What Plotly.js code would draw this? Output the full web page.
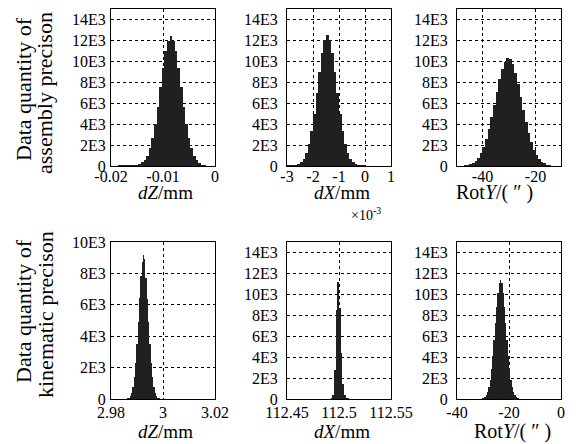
<!DOCTYPE html>
<html><head><meta charset="utf-8">
<script src="https://cdn.plot.ly/plotly-3.0.1.min.js"></script>
<style>html,body{margin:0;padding:0;background:#fff}#chart{width:576px;height:444px}</style>
</head><body><div id="chart"></div>
<script>
// ---------- data ----------
// Panel 1: assembly precision, dZ (mm)
const asmDzBins = [-0.0185,-0.018,-0.0175,-0.017,-0.0165,-0.016,-0.0155,-0.015,-0.0145,-0.014,-0.0135,-0.013,-0.0125,-0.012,-0.0115,-0.011,-0.0105,-0.01,-0.0095,-0.009,-0.0085,-0.008,-0.0075,-0.007,-0.0065,-0.006,-0.0055,-0.005,-0.0045,-0.004,-0.0035,-0.003,-0.0025,-0.002,-0.0015];
const asmDzCounts = [60,70,70,80,80,90,110,140,220,340,560,990,1680,2680,4030,5680,7520,9360,10940,11900,12400,11950,10940,9360,7520,5680,4030,2680,1680,990,540,280,140,60,30];
// Panel 2: assembly precision, dX (x10^-3 mm)
const asmDxBins = [-2.95,-2.85,-2.75,-2.65,-2.55,-2.45,-2.35,-2.25,-2.15,-2.05,-1.95,-1.85,-1.75,-1.65,-1.55,-1.45,-1.35,-1.25,-1.15,-1.05,-0.95,-0.85,-0.75,-0.65,-0.55,-0.45,-0.35,-0.25,-0.15,-0.05,0.05];
const asmDxCounts = [50,60,80,110,200,370,690,1230,2100,3360,5000,6950,8980,10770,12020,12470,12020,10770,8980,6950,5000,3360,2100,1230,690,370,200,110,80,60,20];
// Panel 3: assembly precision, RotY (")
const asmRotBins = [-49.5,-48.5,-47.5,-46.5,-45.5,-44.5,-43.5,-42.5,-41.5,-40.5,-39.5,-38.5,-37.5,-36.5,-35.5,-34.5,-33.5,-32.5,-31.5,-30.5,-29.5,-28.5,-27.5,-26.5,-25.5,-24.5,-23.5,-22.5,-21.5,-20.5,-19.5,-18.5,-17.5,-16.5,-15.5,-14.5,-13.5,-12.5,-11.5,-10.5];
const asmRotCounts = [30,30,40,50,95,170,300,500,800,1230,1830,2600,3550,4660,5870,7110,8290,9270,9960,10280,10200,9720,8900,7830,6620,5380,4200,3150,2270,1570,1040,670,410,240,140,75,40,30,30,20];
// Panel 4: kinematic precision, dZ (mm)
const kinDzBins = [2.985,2.9855,2.986,2.9865,2.987,2.9875,2.988,2.9885,2.989,2.9895,2.99,2.9905,2.991,2.9915,2.992,2.9925,2.993,2.9935,2.994,2.9945,2.995,2.9955,2.996,2.9965,2.997,2.9975,2.998,2.9985,2.999,2.9995];
const kinDzCounts = [20,25,30,35,85,190,400,770,1380,2280,3480,4930,6460,7840,8700,9150,8900,7700,6400,4930,3480,2280,1380,770,400,190,85,35,25,20];
// Panel 5: kinematic precision, dX (mm)
const kinDxBins = [112.4912,112.4928,112.4944,112.496,112.4976,112.4992,112.5008,112.5024,112.504,112.5056,112.5072,112.5088];
const kinDxCounts = [30,60,350,2800,8500,11200,8700,4400,1400,350,100,50];
// Panel 6: kinematic precision, RotY (")
const kinRotBins = [-35.25,-34.75,-34.25,-33.75,-33.25,-32.75,-32.25,-31.75,-31.25,-30.75,-30.25,-29.75,-29.25,-28.75,-28.25,-27.75,-27.25,-26.75,-26.25,-25.75,-25.25,-24.75,-24.25,-23.75,-23.25,-22.75,-22.25,-21.75,-21.25,-20.75,-20.25,-19.75,-19.25,-18.75,-18.25,-17.75,-17.25,-16.75,-16.25,-15.75,-15.25,-14.75,-14.25,-13.75,-13.25,-12.75,-12.25,-11.75,-11.25];
const kinRotCounts = [15,20,20,25,25,30,30,35,40,45,70,120,210,380,670,1150,1850,2840,4100,5600,7240,8830,10170,11070,11390,11070,10170,8830,7240,5600,4100,2840,1850,1150,670,380,210,120,70,45,40,35,30,25,20,20,15,15,10];

// tick values and labels
const countTicks15 = [0,2000,4000,6000,8000,10000,12000,14000];
const countText15 = ['0','2E3','4E3','6E3','8E3','10E3','12E3','14E3'];
const countTicks10 = [0,2000,4000,6000,8000,10000];
const countText10 = ['0','2E3','4E3','6E3','8E3','10E3'];
const xTicks1 = [-0.02,-0.01,0],  xText1 = ['-0.02','-0.01','0'];
const xTicks2 = [-3,-2,-1,0,1],   xText2 = ['-3','-2','-1','0','1'];
const xTicks3 = [-40,-20],        xText3 = ['-40','-20'];
const xTicks4 = [2.98,3,3.02],    xText4 = ['2.98','3','3.02'];
const xTicks5 = [112.45,112.5,112.55], xText5 = ['112.45','112.5','112.55'];
const xTicks6 = [-40,-20,0],      xText6 = ['-40','-20','0'];

const rowTitle1 = 'Data quantity of';
const rowTitle2a = 'assembly precison';
const rowTitle2b = 'kinematic precison';
const rotTitle = 'Rot<i>Y</i>/( \u2033 )';
const xTitles = ['<i>dZ</i>/mm','<i>dX</i>/mm',rotTitle,'<i>dZ</i>/mm','<i>dX</i>/mm',rotTitle];

// ---------- layout helpers ----------
const W = 576, H = 444;
const FONT = '"Liberation Serif", "Times New Roman", Times, serif';
const colsPx = [[111,215],[287,391],[457,561]];
const rowsPx = [[9,166],[242,399]];
const dx = c => [colsPx[c][0]/W, colsPx[c][1]/W];
const dy = r => [1-rowsPx[r][1]/H, 1-rowsPx[r][0]/H];

const barColor = '#202020';
const series = [
  [asmDzBins, asmDzCounts],[asmDxBins, asmDxCounts],[asmRotBins, asmRotCounts],
  [kinDzBins, kinDzCounts],[kinDxBins, kinDxCounts],[kinRotBins, kinRotCounts]
];
const data = series.map((s,i)=>({
  type:'bar', x:s[0], y:s[1],
  xaxis: i===0?'x':'x'+(i+1), yaxis: i===0?'y':'y'+(i+1),
  marker:{color:barColor, line:{width:0}}, showlegend:false, hoverinfo:'skip'
}));

function axBase(){
  return {
    showline:true, mirror:true, linecolor:'#000', linewidth:1,
    showgrid:true, gridcolor:'#000', gridwidth:1, griddash:'dot',
    zeroline:false, ticks:'', tickmode:'array',
    tickfont:{family:FONT, size:16, color:'#000'}
  };
}
const xr = [[-0.02,0],[-3,1],[-49.6,-10.4],[2.98,3.02],[112.45,112.55],[-40,0]];
const xtv = [xTicks1,xTicks2,xTicks3,xTicks4,xTicks5,xTicks6];
const xtt = [xText1,xText2,xText3,xText4,xText5,xText6];
const layout = {
  width:W, height:H, margin:{l:0,r:0,t:0,b:0},
  paper_bgcolor:'#fff', plot_bgcolor:'#fff', bargap:0,
  font:{family:FONT, color:'#000'}, showlegend:false, annotations:[]
};
for(let i=0;i<6;i++){
  const c = i%3, r = Math.floor(i/3);
  const sx = i===0?'':String(i+1);
  layout['xaxis'+sx] = Object.assign(axBase(), {
    domain:dx(c), anchor:'y'+sx, range:xr[i], tickvals:xtv[i], ticktext:xtt[i],
    ticklabelstandoff: (r===0)?-4:-1
  });
  const ten = (i===3);
  layout['yaxis'+sx] = Object.assign(axBase(), {
    domain:dy(r), anchor:'x'+sx, range: ten?[0,10000]:[0,15000],
    tickvals: ten?countTicks10:countTicks15, ticktext: ten?countText10:countText15,
    ticklabelstandoff: (c===0)?1:5
  });
}
// x titles (pixel centres)
const xTitlePos = [[165,192],[342,192],[494,192],[165,431],[342,431],[512,431]];
xTitles.forEach((t,i)=>{
  layout.annotations.push({text:t, xref:'paper', yref:'paper',
    x:xTitlePos[i][0]/W, y:1-xTitlePos[i][1]/H, xanchor:'center', yanchor:'middle',
    showarrow:false, font:{family:FONT, size:(i%3===2)?20:19, color:'#000'}});
});
// x10^-3 multiplier
layout.annotations.push({text:'\u00d710<sup>-3</sup>', xref:'paper', yref:'paper',
  x:366/W, y:1-214/H, xanchor:'center', yanchor:'middle', showarrow:false,
  font:{family:FONT, size:14, color:'#000'}});
// row titles
const rowTitles = [[rowTitle1, 23, 89],[rowTitle2a, 45, 93],[rowTitle1, 23, 311],[rowTitle2b, 45, 315]];
rowTitles.forEach(rt=>{
  layout.annotations.push({text:rt[0], xref:'paper', yref:'paper',
    x:rt[1]/W, y:1-rt[2]/H, xanchor:'center', yanchor:'middle', textangle:-90,
    showarrow:false, font:{family:FONT, size:22, color:'#000'}});
});

Plotly.newPlot('chart', data, layout, {staticPlot:true, displayModeBar:false});
</script>
</body></html>
